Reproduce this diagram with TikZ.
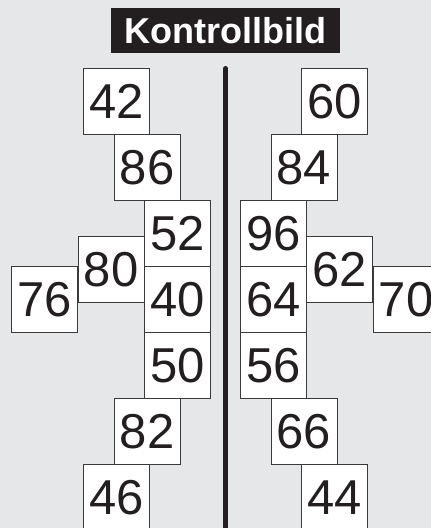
\documentclass[tikz,border=0pt]{standalone}
\usepackage{fontspec}
\setmainfont{Liberation Sans}
\definecolor{bg}{HTML}{E6E7E8}
\definecolor{ink}{HTML}{231F20}
\definecolor{edge}{HTML}{3A3A3A}
\begin{document}
\begin{tikzpicture}[x=1pt,y=-1pt,
  numbox/.style={draw=edge,line width=0.9pt,fill=white,minimum width=66pt,minimum height=66pt,inner sep=0pt,
    font=\fontsize{49}{49}\selectfont,text=ink},
  titlebox/.style={fill=ink,text=white,minimum width=229pt,minimum height=45pt,inner sep=0pt,
    font=\fontsize{36}{36}\selectfont\bfseries}]
\clip (0,0) rectangle (431,528);
\fill[bg] (0,0) rectangle (431,528);
\node[titlebox] (title) at (225.5,30.5) {Kontrollbild};
\coordinate (ltop) at (225.6,68.3);
\coordinate (lbot) at (225.6,540);
\draw[ink,line width=4.6pt,line cap=round] (ltop) -- (lbot);
% left column
\node[numbox] (n42) at (116.7,101.3) {42};
\node[numbox] (n86) at (147.2,167.3) {86};
\node[numbox] (n52) at (177.3,233.7) {52};
\node[numbox] (n80) at (111.2,269.7) {80};
\node[numbox] (n76) at (44.8,299.7) {76};
\node[numbox] (n40) at (177.3,299.7) {40};
\node[numbox] (n50) at (177.3,365.7) {50};
\node[numbox] (n82) at (147.2,431.7) {82};
\node[numbox] (n46) at (116.7,497.7) {46};
% right column
\node[numbox] (n60) at (334.3,101.3) {60};
\node[numbox] (n84) at (304.0,167.3) {84};
\node[numbox] (n96) at (273.7,233.7) {96};
\node[numbox] (n62) at (339.8,269.7) {62};
\node[numbox] (n70) at (406.2,299.7) {70};
\node[numbox] (n64) at (273.7,299.7) {64};
\node[numbox] (n56) at (273.7,365.7) {56};
\node[numbox] (n66) at (304.0,431.7) {66};
\node[numbox] (n44) at (334.3,497.7) {44};
\end{tikzpicture}
\end{document}
